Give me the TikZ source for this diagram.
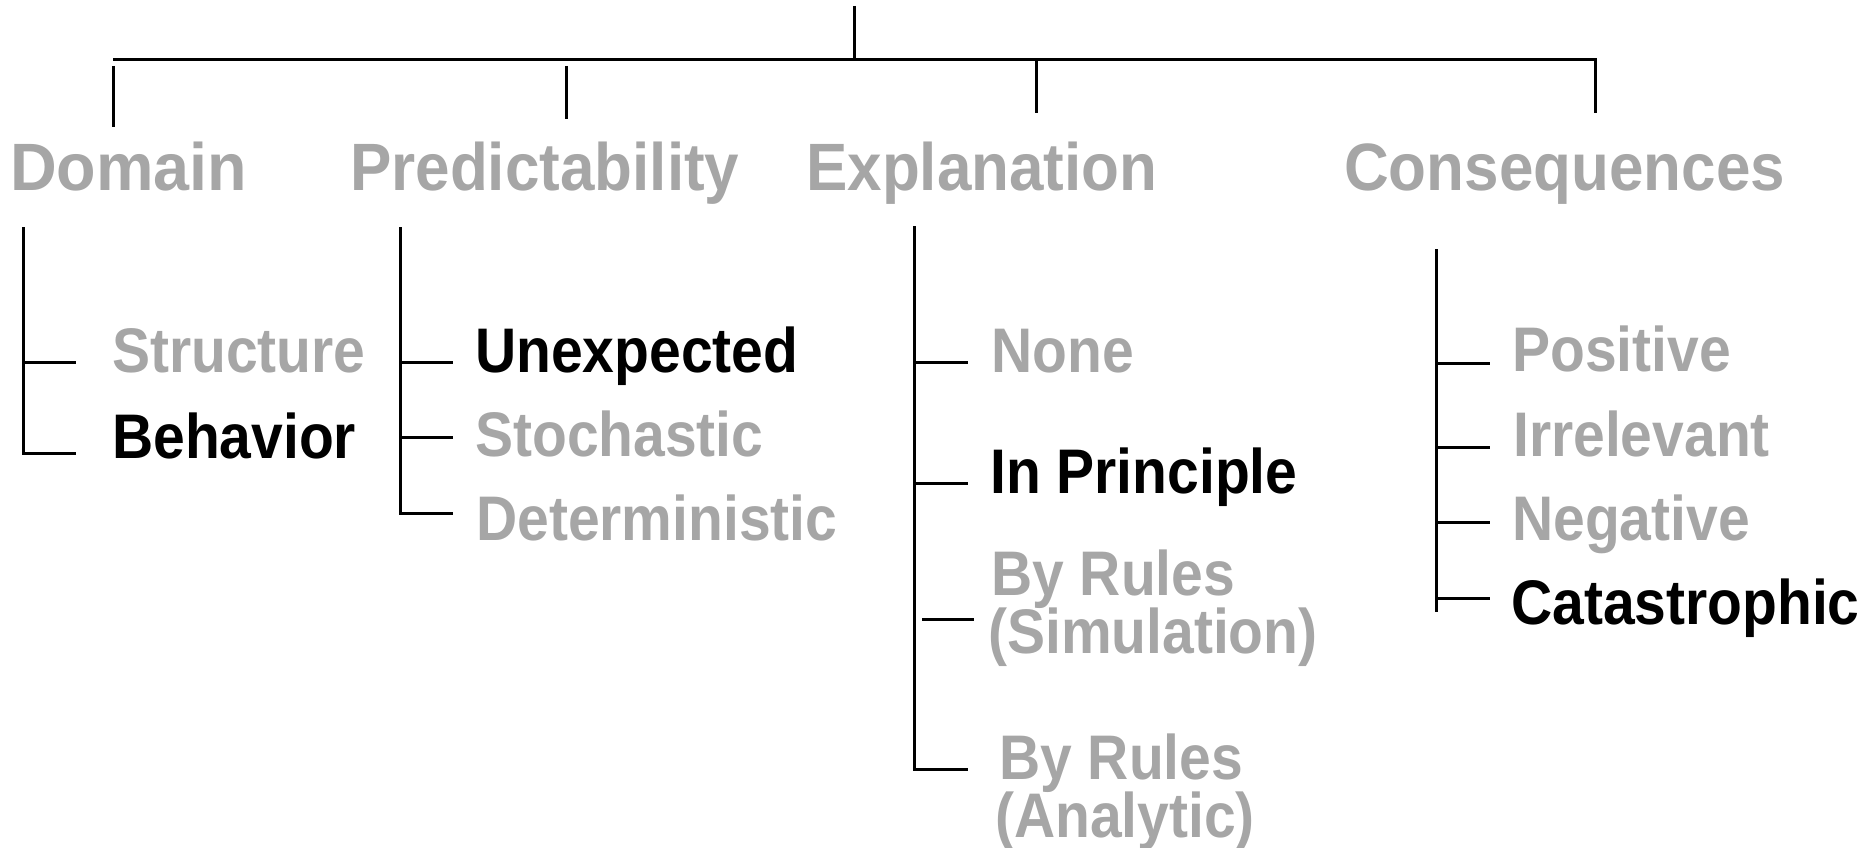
\documentclass[tikz,border=0pt]{standalone}
\usepackage{fontspec}
\newfontfamily\hdrfont{Liberation Sans}[FakeStretch=0.925]
\newfontfamily\hdrwidefont{Liberation Sans}[FakeStretch=0.965]
\newfontfamily\itmfont{Liberation Sans}[FakeStretch=0.905]
\definecolor{lgray}{HTML}{A6A6A6}
\begin{document}
\begin{tikzpicture}[x=1pt,y=-1pt,
  hdr/.style={anchor=base west,inner sep=0pt,text=lgray,font=\hdrfont\bfseries\fontsize{67}{67}\selectfont},
  hdrwide/.style={hdr,font=\hdrwidefont\bfseries\fontsize{67}{67}\selectfont},
  itm/.style={anchor=base west,inner sep=0pt,text=lgray,font=\itmfont\bfseries\fontsize{63}{63}\selectfont},
  sel/.style={itm,text=black},
  tree/.style={draw=black,line width=3pt}]
\useasboundingbox (0,0) rectangle (1864,848);

% headers
\node[hdrwide] (dom) at (10,190) {Domain};
\node[hdr] (pre) at (350,190) {Predictability};
\node[hdr] (exp) at (806,190) {Explanation};
\node[hdr] (con) at (1344,190) {Consequences};

% items
\node[itm] (str) at (112,372) {Structure};
\node[sel] (beh) at (112,458) {Behavior};

\node[sel] (une) at (475,372) {Unexpected};
\node[itm] (sto) at (475,456) {Stochastic};
\node[itm] (det) at (476,540) {Deterministic};

\node[itm] (non) at (991,372) {None};
\node[sel] (inp) at (990,493) {In Principle};
\node[itm] (sima) at (991,595) {By Rules};
\node[itm] (simb) at (988,653) {(Simulation)};
\node[itm] (ana) at (999,779) {By Rules};
\node[itm] (anb) at (995,837) {(Analytic)};

\node[itm] (pos) at (1512,371) {Positive};
\node[itm] (irr) at (1513,456) {Irrelevant};
\node[itm] (neg) at (1512,540) {Negative};
\node[sel] (cat) at (1511,624) {Catastrophic};

% coordinates of the tree
\coordinate (root) at (854,6);
\coordinate (rootj) at (854,60);
\coordinate (barL) at (113,60);
\coordinate (barR) at (1595,60);
\coordinate (dropD0) at (113,66);  \coordinate (dropD1) at (113,127);
\coordinate (dropP0) at (566,66);  \coordinate (dropP1) at (566,119);
\coordinate (dropE0) at (1036,60); \coordinate (dropE1) at (1036,113);
\coordinate (dropC1) at (1595,113);

\coordinate (dT) at (23,227);  \coordinate (dB) at (23,453);
\coordinate (pT) at (400,227); \coordinate (pB) at (400,513);
\coordinate (eT) at (914,226); \coordinate (eB) at (914,769);
\coordinate (cT) at (1436,249); \coordinate (cB) at (1436,612);

% top connectors
\draw[tree] (root) -- (rootj);
\draw[tree] (barL) -- (barR) -- (dropC1);
\draw[tree] (dropD0) -- (dropD1);
\draw[tree] (dropP0) -- (dropP1);
\draw[tree] (dropE0) -- (dropE1);

% Domain column
\draw[tree] (dT) -- (dB) -- ++(53,0);
\draw[tree] (23,362) -- ++(53,0);

% Predictability column
\draw[tree] (pT) -- (pB) -- ++(53,0);
\draw[tree] (400,362) -- ++(53,0);
\draw[tree] (400,437) -- ++(53,0);

% Explanation column
\draw[tree] (eT) -- (eB) -- ++(54,0);
\draw[tree] (914,362) -- ++(54,0);
\draw[tree] (914,483) -- ++(54,0);
\draw[tree] (922,619) -- ++(52,0);

% Consequences column
\draw[tree] (cT) -- (cB);
\draw[tree] (1436,363) -- ++(54,0);
\draw[tree] (1436,447) -- ++(54,0);
\draw[tree] (1436,522) -- ++(54,0);
\draw[tree] (1436,598) -- ++(54,0);
\end{tikzpicture}
\end{document}
